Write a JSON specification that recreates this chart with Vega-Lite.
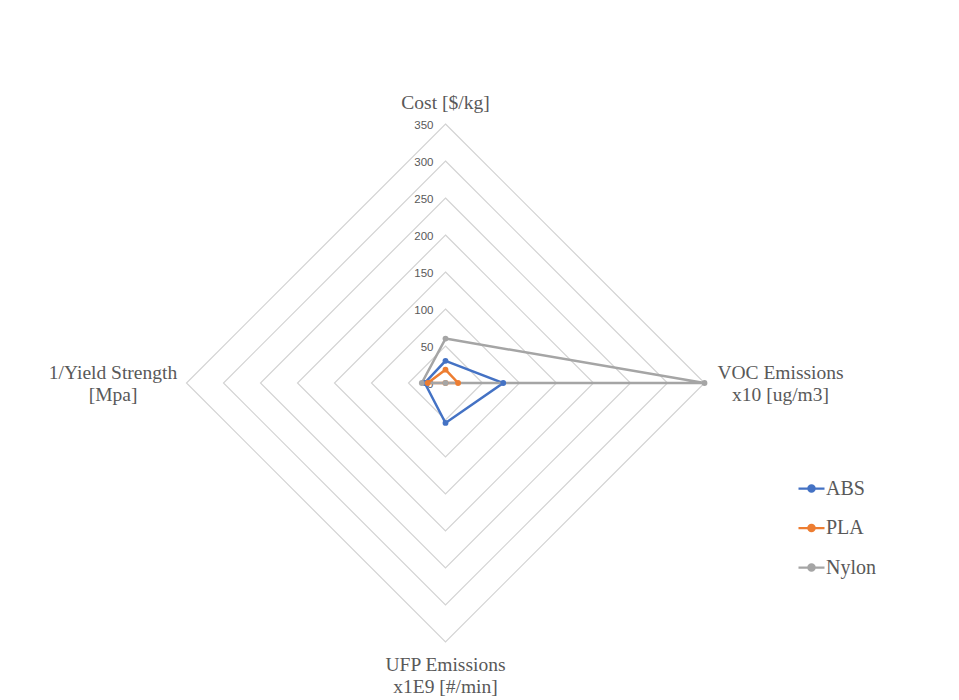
{
  "$schema": "https://vega.github.io/schema/vega-lite/v6.json",
  "width": 518,
  "height": 518,
  "autosize": "none",
  "padding": {"left": 186.5, "top": 124, "right": 254.5, "bottom": 58},
  "background": "white",
  "config": {"view": {"stroke": null}},
  "datasets": {
    "series": [
      {"material": "ABS", "axis": "Cost", "value": 30},
      {"material": "ABS", "axis": "VOC", "value": 78},
      {"material": "ABS", "axis": "UFP", "value": 54},
      {"material": "ABS", "axis": "Yield", "value": 28},
      {"material": "PLA", "axis": "Cost", "value": 18},
      {"material": "PLA", "axis": "VOC", "value": 17},
      {"material": "PLA", "axis": "UFP", "value": 0},
      {"material": "PLA", "axis": "Yield", "value": 24},
      {"material": "Nylon", "axis": "Cost", "value": 60},
      {"material": "Nylon", "axis": "VOC", "value": 350},
      {"material": "Nylon", "axis": "UFP", "value": 0},
      {"material": "Nylon", "axis": "Yield", "value": 32}
    ],
    "grid": [
      {"level": 50, "axis": ["Cost", "VOC", "UFP", "Yield"]},
      {"level": 100, "axis": ["Cost", "VOC", "UFP", "Yield"]},
      {"level": 150, "axis": ["Cost", "VOC", "UFP", "Yield"]},
      {"level": 200, "axis": ["Cost", "VOC", "UFP", "Yield"]},
      {"level": 250, "axis": ["Cost", "VOC", "UFP", "Yield"]},
      {"level": 300, "axis": ["Cost", "VOC", "UFP", "Yield"]},
      {"level": 350, "axis": ["Cost", "VOC", "UFP", "Yield"]}
    ],
    "ticks": [
      {"level": 0}, {"level": 50}, {"level": 100}, {"level": 150},
      {"level": 200}, {"level": 250}, {"level": 300}, {"level": 350}
    ],
    "titles": [
      {"axis": "Cost", "title": ["Cost [$/kg]"]},
      {"axis": "VOC", "title": ["VOC Emissions", "x10 [ug/m3]"]},
      {"axis": "UFP", "title": ["UFP Emissions", "x1E9 [#/min]"]},
      {"axis": "Yield", "title": ["1/Yield Strength", "[Mpa]"]}
    ]
  },
  "layer": [
    {
      "data": {"name": "grid"},
      "transform": [
        {"flatten": ["axis"]},
        {"calculate": "indexof(['Cost','VOC','UFP','Yield'], datum.axis)", "as": "ord"},
        {"calculate": "datum.axis === 'VOC' ? datum.level : datum.axis === 'Yield' ? -datum.level : 0", "as": "px"},
        {"calculate": "datum.axis === 'Cost' ? datum.level : datum.axis === 'UFP' ? -datum.level : 0", "as": "py"}
      ],
      "mark": {"type": "line", "interpolate": "linear-closed", "stroke": "#D3D3D3", "strokeWidth": 1.2},
      "encoding": {
        "x": {"field": "px", "type": "quantitative", "scale": {"domain": [-350, 350], "nice": false, "zero": false}, "axis": null},
        "y": {"field": "py", "type": "quantitative", "scale": {"domain": [-350, 350], "nice": false, "zero": false}, "axis": null},
        "detail": {"field": "level"},
        "order": {"field": "ord"}
      }
    },
    {
      "data": {"name": "ticks"},
      "mark": {"type": "text", "align": "right", "baseline": "middle", "dx": -12, "dy": 2, "font": "Liberation Sans", "fontSize": 11.5, "fill": "#595959"},
      "encoding": {
        "x": {"datum": 0, "type": "quantitative"},
        "y": {"field": "level", "type": "quantitative"},
        "text": {"field": "level"}
      }
    },
    {
      "data": {"name": "series"},
      "transform": [
        {"calculate": "indexof(['Cost','VOC','UFP','Yield'], datum.axis)", "as": "ord"},
        {"calculate": "datum.axis === 'VOC' ? datum.value : datum.axis === 'Yield' ? -datum.value : 0", "as": "px"},
        {"calculate": "datum.axis === 'Cost' ? datum.value : datum.axis === 'UFP' ? -datum.value : 0", "as": "py"}
      ],
      "layer": [
        {
          "mark": {"type": "line", "interpolate": "linear-closed", "strokeWidth": 2.5},
          "encoding": {
            "x": {"field": "px", "type": "quantitative"},
            "y": {"field": "py", "type": "quantitative"},
            "color": {
              "field": "material", "type": "nominal",
              "scale": {"domain": ["ABS", "PLA", "Nylon"], "range": ["#4472C4", "#ED7D31", "#A5A5A5"]},
              "legend": {
                "title": null,
                "orient": "none",
                "legendX": 610.5,
                "legendY": 350,
                "symbolType": "M-1,0H1M0.24,0A0.24,0.24,0,1,1,-0.24,0A0.24,0.24,0,1,1,0.24,0Z",
                "symbolSize": 676,
                "symbolStrokeWidth": 2.25,
                "labelFont": "Liberation Serif",
                "labelFontSize": 20,
                "labelColor": "#595959",
                "labelOffset": 0,
                "rowPadding": 14.5,
                "encode": {"symbols": {"update": {"fill": {"scale": "color", "field": "value"}, "stroke": {"scale": "color", "field": "value"}}}}
              }
            },
            "order": {"field": "ord"}
          }
        },
        {
          "mark": {"type": "point", "filled": true, "size": 34, "opacity": 1},
          "encoding": {
            "x": {"field": "px", "type": "quantitative"},
            "y": {"field": "py", "type": "quantitative"},
            "color": {"field": "material", "type": "nominal"}
          }
        }
      ]
    },
    {
      "data": {"name": "titles"},
      "layer": [
        {
          "transform": [{"filter": "datum.axis === 'Cost'"}],
          "mark": {"type": "text", "align": "center", "baseline": "middle", "dy": -21, "font": "Liberation Serif", "fontSize": 19.5, "fill": "#595959"},
          "encoding": {"x": {"datum": 0, "type": "quantitative"}, "y": {"datum": 350, "type": "quantitative"}, "text": {"field": "title"}}
        },
        {
          "transform": [{"filter": "datum.axis === 'VOC'"}],
          "mark": {"type": "text", "align": "center", "baseline": "middle", "dx": 76, "dy": -10, "lineHeight": 22, "font": "Liberation Serif", "fontSize": 19.5, "fill": "#595959"},
          "encoding": {"x": {"datum": 350, "type": "quantitative"}, "y": {"datum": 0, "type": "quantitative"}, "text": {"field": "title"}}
        },
        {
          "transform": [{"filter": "datum.axis === 'Yield'"}],
          "mark": {"type": "text", "align": "center", "baseline": "middle", "dx": -73.5, "dy": -10, "lineHeight": 22, "font": "Liberation Serif", "fontSize": 19.5, "fill": "#595959"},
          "encoding": {"x": {"datum": -350, "type": "quantitative"}, "y": {"datum": 0, "type": "quantitative"}, "text": {"field": "title"}}
        },
        {
          "transform": [{"filter": "datum.axis === 'UFP'"}],
          "mark": {"type": "text", "align": "center", "baseline": "middle", "dy": 23, "lineHeight": 22, "font": "Liberation Serif", "fontSize": 19.5, "fill": "#595959"},
          "encoding": {"x": {"datum": 0, "type": "quantitative"}, "y": {"datum": -350, "type": "quantitative"}, "text": {"field": "title"}}
        }
      ]
    }
  ]
}
